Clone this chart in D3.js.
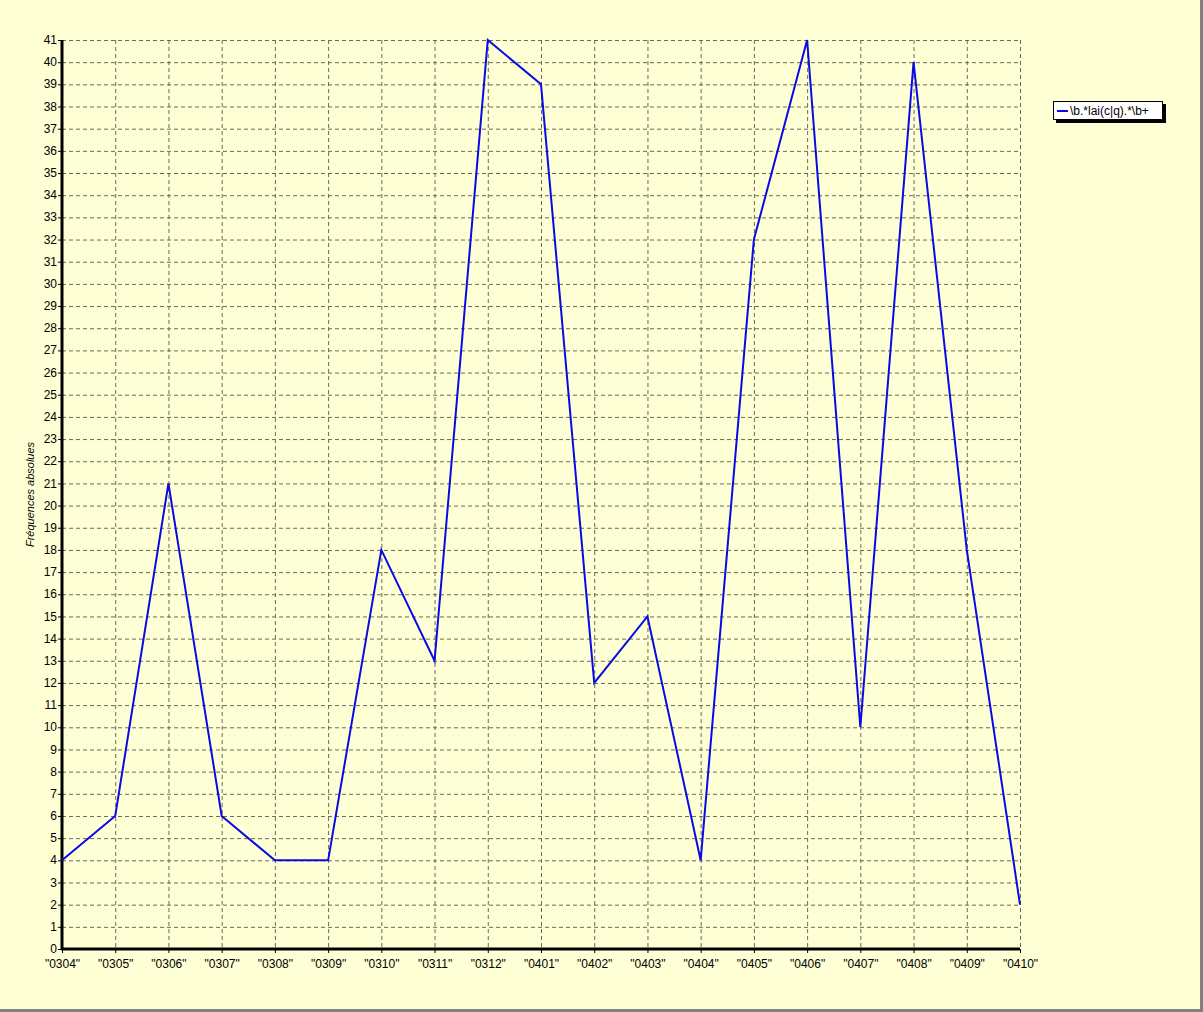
<!DOCTYPE html>
<html>
<head>
<meta charset="utf-8">
<script src="https://cdn.jsdelivr.net/npm/d3@7"></script>
<style>
  body { margin: 0; background: #ffffd5; }
  text { font-family: "Liberation Sans", Arial, sans-serif; font-size: 11px; fill: #000; }
</style>
</head>
<body>
<div id="chart"></div>
<script>
// data
let months = ["0304","0305","0306","0307","0308","0309","0310","0311","0312","0401",
              "0402","0403","0404","0405","0406","0407","0408","0409","0410"];
let counts = [4, 6, 21, 6, 4, 4, 18, 13, 41, 39, 12, 15, 4, 32, 41, 10, 40, 18, 2];
let yTicks = d3.range(0, 42);
let seriesName = "\\b.*lai(c|q).*\\b+";
let yTitle = "Fréquences absolues";

let W = 1203, H = 1012;
let margin = {top: 40, right: 183, bottom: 63, left: 62};
let width = W - margin.left - margin.right;
let height = H - margin.top - margin.bottom;

let svg = d3.select("#chart").append("svg")
    .attr("width", W)
    .attr("height", H);

// background + frame
svg.append("rect")
    .attr("width", W).attr("height", H)
    .attr("fill", "#ffffd5");
svg.append("line")
    .attr("x1", 0).attr("x2", W).attr("y1", H - 1.5).attr("y2", H - 1.5)
    .attr("stroke", "#808080").attr("stroke-width", 3);
svg.append("line")
    .attr("x1", W - 1.5).attr("x2", W - 1.5).attr("y1", 0).attr("y2", H)
    .attr("stroke", "#808080").attr("stroke-width", 3);

let g = svg.append("g")
    .attr("transform", `translate(${margin.left},${margin.top})`);

// scales
let xScale = d3.scalePoint()
    .domain(months)
    .range([0, width]);
let yScale = d3.scaleLinear()
    .domain([0, 41])
    .range([height, 0]);

// grid
g.append("g")
    .selectAll("line")
    .data(yTicks)
    .enter().append("line")
    .attr("x1", 0).attr("x2", width)
    .attr("y1", d => yScale(d) + 0.5).attr("y2", d => yScale(d) + 0.5)
    .attr("stroke", "#6a6a58")
    .attr("stroke-dasharray", "4,3");
g.append("g")
    .selectAll("line")
    .data(months)
    .enter().append("line")
    .attr("x1", d => xScale(d) + 0.5).attr("x2", d => xScale(d) + 0.5)
    .attr("y1", 0).attr("y2", height)
    .attr("stroke", "#6a6a58")
    .attr("stroke-dasharray", "4,3");

// axes
let yAxis = d3.axisLeft(yScale)
    .tickValues(yTicks)
    .tickFormat(d3.format("d"))
    .tickSize(4)
    .tickSizeOuter(0);
let xAxis = d3.axisBottom(xScale)
    .tickFormat(d => `"${d}"`)
    .tickSize(4)
    .tickSizeOuter(0);

let ya = g.append("g").attr("class", "y-axis").call(yAxis);
ya.select(".domain").remove();
ya.selectAll("text").attr("x", -5).attr("dy", "0.3em").style("font-size", "12px");
ya.selectAll(".tick line").attr("stroke", "#000");

let xa = g.append("g").attr("class", "x-axis")
    .attr("transform", `translate(0,${height})`)
    .call(xAxis);
xa.select(".domain").remove();
xa.selectAll("text").attr("y", 10).style("font-size", "12px");

// solid left and bottom axis lines
g.append("line")
    .attr("x1", 0).attr("x2", 0).attr("y1", 0).attr("y2", height + 1)
    .attr("stroke", "#000").attr("stroke-width", 3);
g.append("line")
    .attr("x1", -1).attr("x2", width).attr("y1", height).attr("y2", height)
    .attr("stroke", "#000").attr("stroke-width", 3);

// y title
svg.append("text")
    .attr("transform", `translate(34,${margin.top + height / 2}) rotate(-90)`)
    .attr("text-anchor", "middle")
    .style("font-style", "italic")
    .style("font-size", "11px")
    .text(yTitle);

// series line
let line = d3.line()
    .x((d, i) => xScale(months[i]))
    .y(d => yScale(d));
g.append("path")
    .datum(counts)
    .attr("d", line)
    .attr("fill", "none")
    .attr("stroke", "#0a0ae6")
    .attr("stroke-width", 2);

// legend
let lg = svg.append("g").attr("transform", "translate(1053,101)");
lg.append("rect")
    .attr("x", 3).attr("y", 3).attr("width", 110).attr("height", 19)
    .attr("fill", "#000");
lg.append("rect")
    .attr("x", 0.5).attr("y", 0.5).attr("width", 109).attr("height", 18)
    .attr("fill", "#fff").attr("stroke", "#000");
lg.append("line")
    .attr("x1", 4).attr("x2", 15).attr("y1", 10).attr("y2", 10)
    .attr("stroke", "#0a0ae6").attr("stroke-width", 2);
lg.append("text")
    .attr("x", 17).attr("y", 14)
    .style("font-size", "12px")
    .text(seriesName);
</script>
</body>
</html>
